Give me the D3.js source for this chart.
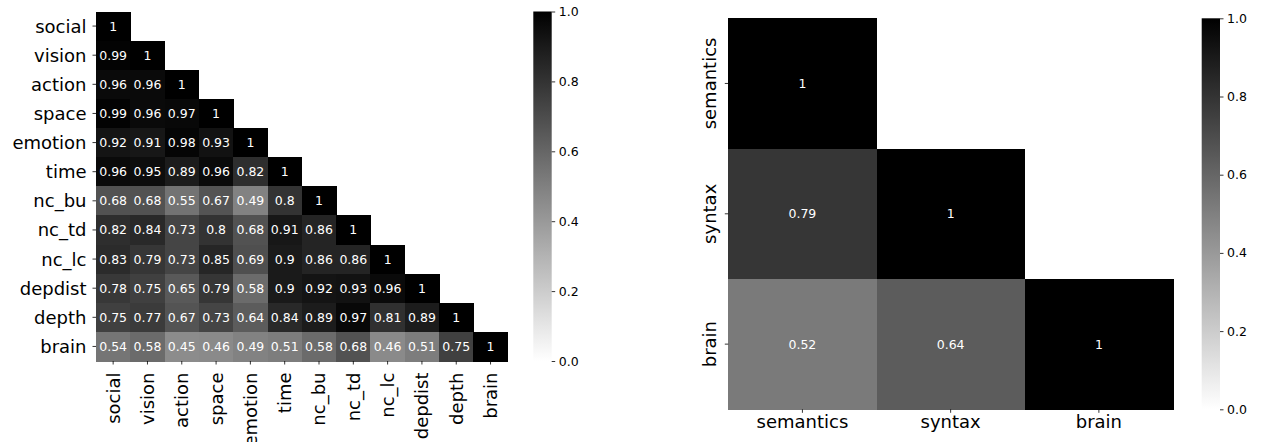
<!DOCTYPE html>
<html>
<head>
<meta charset="utf-8">
<script src="https://cdn.jsdelivr.net/npm/d3@7"></script>
<style>
  html, body { margin: 0; padding: 0; background: #fff; }
  svg { display: block; font-family: "DejaVu Sans", sans-serif; }
</style>
</head>
<body>
<svg id="chart" width="1263" height="442"></svg>
<script>
// ---- data ----
const leftLabels = ["social","vision","action","space","emotion","time","nc_bu","nc_td","nc_lc","depdist","depth","brain"];
const leftValues = [
  [1],
  [0.99, 1],
  [0.96, 0.96, 1],
  [0.99, 0.96, 0.97, 1],
  [0.92, 0.91, 0.98, 0.93, 1],
  [0.96, 0.95, 0.89, 0.96, 0.82, 1],
  [0.68, 0.68, 0.55, 0.67, 0.49, 0.8, 1],
  [0.82, 0.84, 0.73, 0.8, 0.68, 0.91, 0.86, 1],
  [0.83, 0.79, 0.73, 0.85, 0.69, 0.9, 0.86, 0.86, 1],
  [0.78, 0.75, 0.65, 0.79, 0.58, 0.9, 0.92, 0.93, 0.96, 1],
  [0.75, 0.77, 0.67, 0.73, 0.64, 0.84, 0.89, 0.97, 0.81, 0.89, 1],
  [0.54, 0.58, 0.45, 0.46, 0.49, 0.51, 0.58, 0.68, 0.46, 0.51, 0.75, 1]
];
const rightLabels = ["semantics","syntax","brain"];
const rightValues = [
  [1],
  [0.79, 1],
  [0.52, 0.64, 1]
];
const colorbarTicks = [0, 0.2, 0.4, 0.6, 0.8, 1.0];

// ---- drawing ----
const svg = d3.select("#chart");
const color = d3.scaleLinear().domain([0, 1]).range(["#ffffff", "#000000"]).interpolate(d3.interpolateRgb);
const fmt = v => String(+v.toFixed(2));

function flatten(values, labels) {
  const cells = [];
  values.forEach((row, i) => row.forEach((v, j) => cells.push({ r: labels[i], c: labels[j], v })));
  return cells;
}

function heatmap(opts) {
  const { labels, values, x0, x1, y0, y1, rotateX, rotateY } = opts;
  const g = svg.append("g");
  const x = d3.scaleBand().domain(labels).range([x0, x1]).padding(0);
  const y = d3.scaleBand().domain(labels).range([y0, y1]).padding(0);
  const cells = flatten(values, labels);

  g.selectAll("rect.cell").data(cells).join("rect")
    .attr("class", "cell")
    .attr("x", d => x(d.c)).attr("y", d => y(d.r))
    .attr("width", x.bandwidth() + 0.5).attr("height", y.bandwidth() + 0.5)
    .attr("shape-rendering", "crispEdges")
    .attr("fill", d => color(d.v));

  g.selectAll("text.annot").data(cells).join("text")
    .attr("class", "annot")
    .attr("x", d => x(d.c) + x.bandwidth() / 2)
    .attr("y", d => y(d.r) + y.bandwidth() / 2)
    .attr("text-anchor", "middle")
    .attr("dominant-baseline", "central")
    .attr("font-size", "12.5px")
    .attr("fill", "#ffffff")
    .text(d => fmt(d.v));

  // y axis ticks
  const yTicks = g.append("g");
  labels.forEach(l => {
    const cy = y(l) + y.bandwidth() / 2;
    yTicks.append("line").attr("x1", x0 - 3.5).attr("x2", x0).attr("y1", cy).attr("y2", cy)
      .attr("stroke", "#000").attr("stroke-width", 0.8);
    if (rotateY) {
      yTicks.append("text")
        .attr("transform", `translate(${x0 - 12.8},${cy}) rotate(-90)`)
        .attr("text-anchor", "middle")
        .attr("font-size", "18px").attr("fill", "#000")
        .text(l);
    } else {
      yTicks.append("text")
        .attr("x", x0 - 9.5).attr("y", cy)
        .attr("text-anchor", "end").attr("dominant-baseline", "central")
        .attr("font-size", "18px").attr("fill", "#000")
        .text(l);
    }
  });

  // x axis ticks
  const xTicks = g.append("g");
  labels.forEach(l => {
    const cx = x(l) + x.bandwidth() / 2;
    xTicks.append("line").attr("x1", cx).attr("x2", cx).attr("y1", y1).attr("y2", y1 + 3.5)
      .attr("stroke", "#000").attr("stroke-width", 0.8);
    if (rotateX) {
      xTicks.append("text")
        .attr("transform", `translate(${cx},${y1 + 11.5}) rotate(-90)`)
        .attr("text-anchor", "end").attr("dy", "0.36em")
        .attr("font-size", "18px").attr("fill", "#000")
        .text(l);
    } else {
      xTicks.append("text")
        .attr("x", cx).attr("y", y1 + 19)
        .attr("text-anchor", "middle")
        .attr("font-size", "18px").attr("fill", "#000")
        .text(l);
    }
  });
}

function colorbar(opts) {
  const { x0, x1, y0, y1, id } = opts;
  const defs = svg.append("defs");
  const grad = defs.append("linearGradient").attr("id", id)
    .attr("x1", "0").attr("y1", "1").attr("x2", "0").attr("y2", "0");
  d3.range(0, 1.0001, 0.1).forEach(t => {
    grad.append("stop").attr("offset", t).attr("stop-color", color(t));
  });
  svg.append("rect").attr("x", x0).attr("y", y0).attr("width", x1 - x0).attr("height", y1 - y0)
    .attr("fill", `url(#${id})`);
  const s = d3.scaleLinear().domain([0, 1]).range([y1, y0]);
  const axis = d3.axisRight(s).tickValues(colorbarTicks).tickFormat(d3.format(".1f"))
    .tickSize(3.5).tickPadding(3.5);
  const ga = svg.append("g").attr("transform", `translate(${x1},0)`).call(axis);
  ga.select(".domain").remove();
  ga.selectAll(".tick line").attr("stroke", "#000").attr("stroke-width", 0.8);
  ga.selectAll(".tick text").attr("font-size", "12.5px").attr("fill", "#000")
    .attr("font-family", "DejaVu Sans, sans-serif");
}

heatmap({ labels: leftLabels, values: leftValues, x0: 96, x1: 507.7, y0: 11.5, y1: 361, rotateX: true, rotateY: false });
colorbar({ x0: 533.3, x1: 551.7, y0: 11.5, y1: 361, id: "cb1" });
heatmap({ labels: rightLabels, values: rightValues, x0: 728.3, x1: 1173, y0: 18.3, y1: 409.3, rotateX: false, rotateY: true });
colorbar({ x0: 1201.7, x1: 1220, y0: 18.3, y1: 409.3, id: "cb2" });
</script>
</body>
</html>
